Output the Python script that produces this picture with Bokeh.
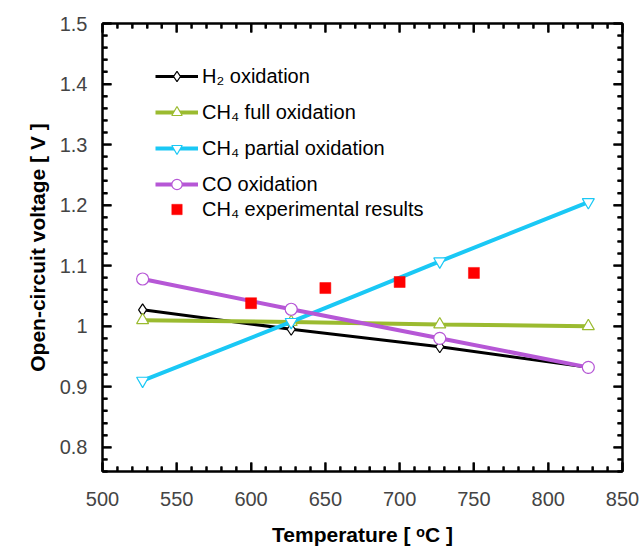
from bokeh.plotting import figure
from bokeh.models import (Range1d, LinearAxis, FixedTicker, Legend, LegendItem)
from bokeh.embed import file_html
from bokeh.resources import INLINE
import numpy as np

# ---- data ----
temps = [527, 627, 727, 827]
h2_ox = [1.027, 0.995, 0.966, 0.932]
ch4_full = [1.010, 1.007, 1.003, 1.000]
ch4_partial = [0.910, 1.007, 1.107, 1.205]
co_ox = [1.078, 1.028, 0.980, 0.932]
exp_temps = [600, 650, 700, 750]
exp_ch4 = [1.038, 1.063, 1.073, 1.088]

x_ticks = [500, 550, 600, 650, 700, 750, 800, 850]
y_ticks = [0.8, 0.9, 1.0, 1.1, 1.2, 1.3, 1.4, 1.5]
y_tick_labels = {0.8: "0.8", 0.9: "0.9", 1.0: "1", 1.1: "1.1", 1.2: "1.2",
                 1.3: "1.3", 1.4: "1.4", 1.5: "1.5"}

labels = ["H\u2082 oxidation", "CH\u2084 full oxidation",
          "CH\u2084 partial oxidation", "CO oxidation",
          "CH\u2084 experimental results"]

BLACK = "#000000"
GREEN = "#9BBB30"
CYAN = "#1AC8F5"
PURPLE = "#B657D6"
RED = "#FF0000"
FONT = "Liberation Sans"

X0, X1 = 500, 850
Y0, Y1 = 0.76, 1.5
FW, FH = 520, 448  # frame size in px

x_minor = [float(v) for v in range(500, 851, 10) if v not in x_ticks]
y_minor = [float(round(v, 2)) for v in np.arange(0.76, 1.5001, 0.02)]
y_minor = [v for v in y_minor if all(abs(v - t) > 1e-6 for t in y_ticks)]

p = figure(width=644, height=551, output_backend="svg", toolbar_location=None,
           x_range=Range1d(X0, X1), y_range=Range1d(Y0, Y1),
           min_border_left=102, min_border_right=22, min_border_top=23,
           min_border_bottom=80)
p.xgrid.visible = False
p.ygrid.visible = False
p.outline_line_color = "black"
p.outline_line_width = 2

def style_axis(ax, show_labels):
    ax.axis_line_width = 2
    ax.axis_line_color = "black"
    ax.major_tick_in = 9
    ax.major_tick_out = 0
    ax.minor_tick_in = 5
    ax.minor_tick_out = 0
    ax.major_tick_line_width = 2
    ax.minor_tick_line_width = 2
    ax.major_tick_line_color = "black"
    ax.minor_tick_line_color = "black"
    ax.major_label_text_font = FONT
    if show_labels:
        ax.major_label_text_font_size = "20px"
    else:
        ax.major_label_text_font_size = "1px"
        ax.major_label_text_alpha = 0
        ax.major_label_standoff = 0
    ax.axis_label_text_font = FONT
    ax.axis_label_text_font_size = "21px"
    ax.axis_label_text_font_style = "bold"
    ax.axis_label_text_color = "black"

xb = p.xaxis[0]
xb.ticker = FixedTicker(ticks=x_ticks, minor_ticks=x_minor)
style_axis(xb, True)
xb.major_label_standoff = 20
xb.axis_label = "Temperature [ \u1d52C ]"
xb.axis_label_standoff = 14

yl = p.yaxis[0]
yl.ticker = FixedTicker(ticks=y_ticks, minor_ticks=y_minor)
style_axis(yl, True)
yl.major_label_standoff = 15
yl.major_label_overrides = y_tick_labels
yl.axis_label = "Open-circuit voltage [ V ]"
yl.axis_label_standoff = 8

xt = LinearAxis(ticker=FixedTicker(ticks=x_ticks, minor_ticks=x_minor))
style_axis(xt, False)
p.add_layout(xt, "above")
yr = LinearAxis(ticker=FixedTicker(ticks=y_ticks, minor_ticks=y_minor))
style_axis(yr, False)
p.add_layout(yr, "right")

series = [
    (h2_ox, BLACK, "diamond", 3, 12),
    (ch4_full, GREEN, "triangle", 4, 12),
    (ch4_partial, CYAN, "inverted_triangle", 4, 12),
    (co_ox, PURPLE, "circle", 4, 12),
]
items = []
for (vals, col, mk, lw, sz), lab in zip(series, labels[:4]):
    ln = p.line(temps, vals, line_color=col, line_width=lw)
    sc = p.scatter(temps, vals, marker=mk, size=sz, line_color=col,
                   fill_color="white", line_width=1.2)
    items.append(LegendItem(label=lab, renderers=[ln, sc]))

ex = p.scatter(exp_temps, exp_ch4, marker="square", size=11,
               fill_color=RED, line_color=RED, line_width=0.5)

# inward tick marks on all four sides, drawn last at overlay level
dx = (X1 - X0) / FW
dy = (Y1 - Y0) / FH
for xs_list, L in ((x_ticks, 9), (x_minor, 5)):
    xs = np.array(xs_list, dtype=float)
    for yc in (Y0 + L / 2 * dy, Y1 - L / 2 * dy):
        p.rect(x=xs, y=np.full_like(xs, yc), width=2, height=L,
               width_units="screen", height_units="screen",
               fill_color="black", line_color=None, level="overlay")
for ys_list, L in ((y_ticks, 9), (y_minor, 5)):
    ys = np.array(ys_list, dtype=float)
    for xc in (X0 + L / 2 * dx, X1 - L / 2 * dx):
        p.rect(x=np.full_like(ys, xc), y=ys, width=L, height=2,
               width_units="screen", height_units="screen",
               fill_color="black", line_color=None, level="overlay")

def make_legend(its, loc, spacing):
    lg = Legend(items=its, location=loc, orientation="vertical",
                background_fill_alpha=0, border_line_color=None,
                label_text_font=FONT, label_text_font_size="20px",
                label_text_color="black", glyph_width=43, glyph_height=26,
                label_standoff=4, spacing=spacing, padding=0, margin=0,
                label_height=26)
    return lg

lg1 = make_legend(items, (53, 274), 10)
lg2 = make_legend([LegendItem(label=labels[4], renderers=[ex])], (53, 249), 0)
p.add_layout(lg1, "center")
p.add_layout(lg2, "center")

open("out.html", "w").write(file_html(p, INLINE))
